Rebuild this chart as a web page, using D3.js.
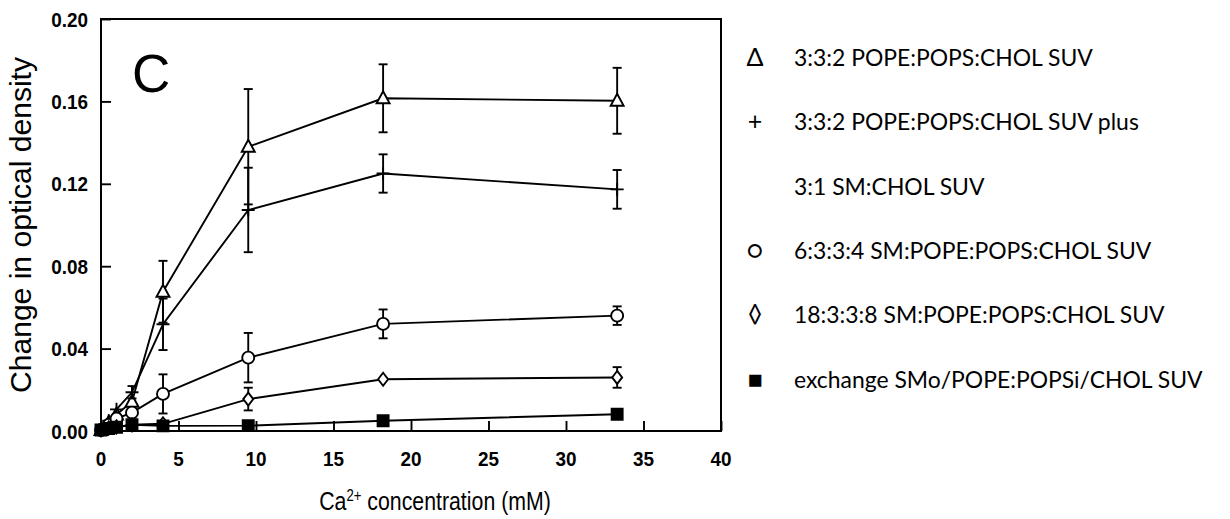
<!DOCTYPE html>
<html>
<head>
<meta charset="utf-8">
<script src="https://cdn.jsdelivr.net/npm/d3@7"></script>
<style>
  body { margin: 0; background: #fff; }
  svg { display: block; }
  .tick-label { font-family: "Liberation Sans", Arial, sans-serif; font-weight: bold; font-size: 21px; }
  .axis-title { font-family: "Liberation Sans", Arial, sans-serif; }
  .legend-label { font-family: Lato, "Open Sans", sans-serif; }
</style>
</head>
<body>
<svg id="chart" width="1230" height="519"></svg>
<script>
// Ca2+ concentration (mM)
const concentrations = [0, 0.5, 1, 2, 4, 9.5, 18.2, 33.3];

// change in optical density, one array per vesicle type
const pope332 = [0.0005, 0.004, 0.008, 0.0142, 0.0676, 0.138, 0.1615, 0.1603];
const pope332Err = [0, 0, 0, 0, 0.015, 0.028, 0.0165, 0.016];
const popePlusSm = [0.0005, 0.005, 0.0105, 0.0188, 0.0518, 0.1073, 0.125, 0.1173];
const popePlusSmErr = [0, 0, 0, 0.003, 0.0125, 0.0205, 0.0093, 0.0094];
const sm6334 = [0.0005, 0.003, 0.006, 0.0089, 0.018, 0.0356, 0.052, 0.056];
const sm6334Err = [0, 0, 0, 0, 0.0095, 0.012, 0.007, 0.0045];
const sm18338 = [0.0005, 0.0015, 0.002, 0.003, 0.0035, 0.0155, 0.0251, 0.026];
const sm18338Err = [0, 0, 0, 0, 0, 0.0055, 0, 0.005];
const exchange = [0.0005, 0.0012, 0.0018, 0.003, 0.0025, 0.0026, 0.005, 0.0081];
const exchangeErr = [0, 0, 0, 0, 0, 0, 0, 0];

const xTicks = [0, 5, 10, 15, 20, 25, 30, 35, 40];
const yTicks = [0, 0.04, 0.08, 0.12, 0.16, 0.20];

const legendSymbols = ['\u0394', '+', '', '\u25CB', '\u25CA', '\u25A0'];
const legendLabels = [
  '3:3:2 POPE:POPS:CHOL SUV',
  '3:3:2 POPE:POPS:CHOL SUV plus',
  '3:1 SM:CHOL SUV',
  '6:3:3:4 SM:POPE:POPS:CHOL SUV',
  '18:3:3:8 SM:POPE:POPS:CHOL SUV',
  'exchange SMo/POPE:POPSi/CHOL SUV'
];

const series = [
  { values: pope332, err: pope332Err, marker: 'triangle' },
  { values: popePlusSm, err: popePlusSmErr, marker: 'plus' },
  { values: sm6334, err: sm6334Err, marker: 'circle' },
  { values: sm18338, err: sm18338Err, marker: 'diamond' },
  { values: exchange, err: exchangeErr, marker: 'square' }
];

const margin = { top: 19, left: 101 };
const width = 620;
const height = 412;
const stroke = 1.9;

const svg = d3.select('#chart');
const g = svg.append('g')
  .attr('transform', 'translate(' + margin.left + ',' + margin.top + ')');

const xScale = d3.scaleLinear().domain([0, 40]).range([0, width]);
const yScale = d3.scaleLinear().domain([0, 0.2]).range([height, 0]);

// ticks point inward
const xAxis = d3.axisTop(xScale).tickValues(xTicks).tickSize(10).tickFormat('');
const yAxis = d3.axisRight(yScale).tickValues(yTicks).tickSize(10).tickFormat('');

g.append('g')
  .attr('transform', 'translate(0,' + height + ')')
  .call(xAxis)
  .call(a => a.select('.domain').remove())
  .selectAll('line').attr('stroke', '#000').attr('stroke-width', stroke);

g.append('g')
  .call(yAxis)
  .call(a => a.select('.domain').remove())
  .selectAll('line').attr('stroke', '#000').attr('stroke-width', stroke);

g.append('rect')
  .attr('width', width)
  .attr('height', height)
  .attr('fill', 'none')
  .attr('stroke', '#000')
  .attr('stroke-width', 2);

// the original tick font is a slightly narrow bold sans
g.selectAll('.x-label')
  .data(xTicks)
  .enter()
  .append('text')
  .attr('class', 'tick-label')
  .attr('transform', d => 'translate(' + xScale(d) + ',' + (height + 35) + ') scale(0.9,1)')
  .attr('text-anchor', 'middle')
  .text(d => d);

g.selectAll('.y-label')
  .data(yTicks)
  .enter()
  .append('text')
  .attr('class', 'tick-label')
  .attr('transform', d => 'translate(-13,' + (yScale(d) + 7.5) + ') scale(0.9,1)')
  .attr('text-anchor', 'end')
  .text(d => d.toFixed(2));

// axis titles
const xTitle = svg.append('text')
  .attr('class', 'axis-title')
  .attr('transform', 'translate(435,510) scale(0.82,1)')
  .attr('text-anchor', 'middle')
  .style('font-size', '26px');
xTitle.append('tspan').text('Ca');
xTitle.append('tspan').attr('dy', -9).style('font-size', '16px').text('2+');
xTitle.append('tspan').attr('dy', 9).text(' concentration (mM)');

svg.append('text')
  .attr('class', 'axis-title')
  .attr('transform', 'translate(31,225) rotate(-90)')
  .attr('text-anchor', 'middle')
  .style('font-size', '29px')
  .attr('textLength', 336)
  .attr('lengthAdjust', 'spacingAndGlyphs')
  .text('Change in optical density');

g.append('text')
  .attr('class', 'axis-title')
  .attr('x', 31)
  .attr('y', 73)
  .style('font-size', '53px')
  .text('C');

// data
const line = d3.line()
  .x((d, i) => xScale(concentrations[i]))
  .y(d => yScale(d));

function markerPath(type) {
  switch (type) {
    case 'triangle': return 'M0,-7L6.5,5L-6.5,5Z';
    case 'circle': return d3.symbol(d3.symbolCircle, 113)();
    case 'diamond': return 'M0,-6.5L5,0L0,6.5L-5,0Z';
    case 'square': return 'M-5.5,-5.5H5.5V5.5H-5.5Z';
    case 'plus': return 'M-6.5,0H6.5M0,-6.5V6.5';
  }
}

series.forEach(s => {
  const sg = g.append('g');

  sg.append('path')
    .attr('d', line(s.values))
    .attr('fill', 'none')
    .attr('stroke', '#000')
    .attr('stroke-width', stroke);

  const pts = s.values.map((v, i) => ({ x: concentrations[i], y: v, e: s.err[i] }));

  const bars = sg.selectAll('.err')
    .data(pts.filter(p => p.e > 0))
    .enter()
    .append('g')
    .attr('stroke', '#000')
    .attr('stroke-width', stroke);

  bars.append('line')
    .attr('x1', d => xScale(d.x)).attr('x2', d => xScale(d.x))
    .attr('y1', d => yScale(d.y - d.e)).attr('y2', d => yScale(d.y + d.e));
  bars.append('line')
    .attr('x1', d => xScale(d.x) - 4.5).attr('x2', d => xScale(d.x) + 4.5)
    .attr('y1', d => yScale(d.y + d.e)).attr('y2', d => yScale(d.y + d.e));
  bars.append('line')
    .attr('x1', d => xScale(d.x) - 4.5).attr('x2', d => xScale(d.x) + 4.5)
    .attr('y1', d => yScale(d.y - d.e)).attr('y2', d => yScale(d.y - d.e));

  sg.selectAll('.pt')
    .data(pts)
    .enter()
    .append('path')
    .attr('transform', d => 'translate(' + xScale(d.x) + ',' + yScale(d.y) + ')')
    .attr('d', markerPath(s.marker))
    .attr('fill', s.marker === 'square' ? '#000' : (s.marker === 'plus' ? 'none' : '#fff'))
    .attr('stroke', '#000')
    .attr('stroke-width', stroke);
});

// legend
const legend = svg.append('g').attr('class', 'legend');
const rows = legend.selectAll('.row')
  .data(legendLabels)
  .enter()
  .append('g')
  .attr('transform', (d, i) => 'translate(0,' + (66 + i * 64.3) + ')');

rows.append('text')
  .attr('x', 755)
  .attr('text-anchor', 'middle')
  .attr('class', 'legend-label')
  .style('font-size', '25px')
  .text((d, i) => legendSymbols[i]);

const labels = rows.append('text')
  .attr('x', 794)
  .attr('class', 'legend-label')
  .style('font-size', '26px')
  .text(d => d);

// fit the label font so the first row spans the same width as the original
const w0 = labels.node().getComputedTextLength();
labels.style('font-size', (26 * 299 / w0).toFixed(2) + 'px');
</script>
</body>
</html>
